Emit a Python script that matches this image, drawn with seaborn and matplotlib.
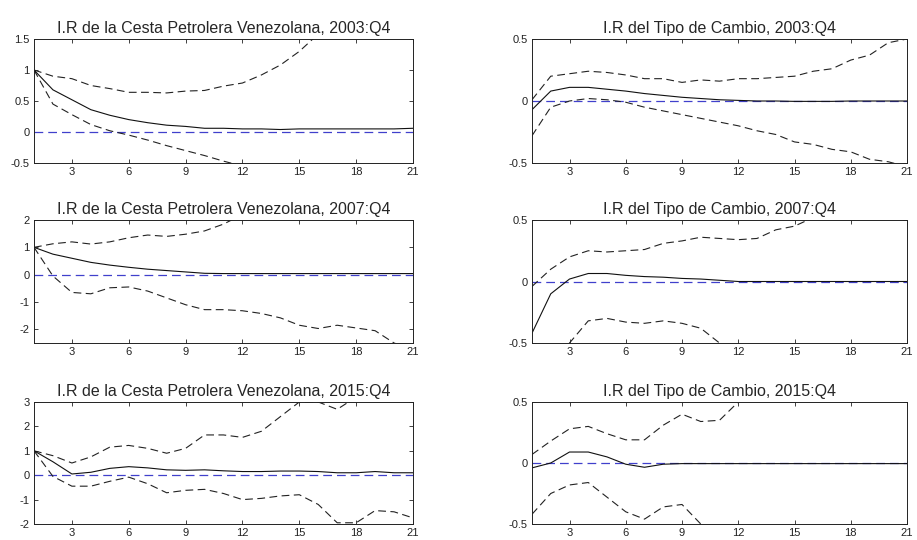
import numpy as np
import pandas as pd
import matplotlib
matplotlib.use("Agg")
import matplotlib.pyplot as plt
import seaborn as sns

sns.set_style("white")
plt.rcParams['font.family'] = ['Liberation Sans', 'DejaVu Sans']

horizon = list(range(1, 22))
xticks = [3, 6, 9, 12, 15, 18, 21]

# --- 2003:Q4 oil basket ---
oil03_resp = [1.0, 0.68, 0.52, 0.36, 0.27, 0.20, 0.15, 0.11, 0.09, 0.06, 0.06,
              0.05, 0.05, 0.04, 0.05, 0.05, 0.05, 0.05, 0.05, 0.05, 0.06]
oil03_up = [1.0, 0.90, 0.86, 0.75, 0.70, 0.64, 0.64, 0.63, 0.66, 0.67, 0.74,
            0.79, 0.92, 1.08, 1.30, 1.58, 1.80, 2.00, 2.25, 2.50, 2.70]
oil03_lo = [1.0, 0.45, 0.28, 0.12, 0.02, -0.05, -0.13, -0.22, -0.30, -0.38, -0.47,
            -0.55, -0.63, -0.72, -0.80, -0.88, -0.95, -1.02, -1.10, -1.18, -1.25]

# --- 2003:Q4 exchange rate ---
fx03_resp = [-0.07, 0.08, 0.11, 0.11, 0.095, 0.08, 0.06, 0.045, 0.03, 0.02, 0.01,
             0.005, 0.0, 0.0, -0.003, -0.003, -0.003, 0.0, 0.0, 0.0, 0.0]
fx03_up = [0.01, 0.20, 0.22, 0.24, 0.23, 0.21, 0.18, 0.18, 0.15, 0.17, 0.16,
           0.18, 0.18, 0.19, 0.20, 0.24, 0.26, 0.33, 0.37, 0.47, 0.50]
fx03_lo = [-0.28, -0.05, 0.0, 0.02, 0.01, -0.01, -0.05, -0.08, -0.11, -0.14, -0.17,
           -0.20, -0.24, -0.27, -0.33, -0.35, -0.39, -0.41, -0.47, -0.49, -0.53]

# --- 2007:Q4 oil basket ---
oil07_resp = [1.0, 0.75, 0.60, 0.45, 0.35, 0.27, 0.20, 0.15, 0.10, 0.05, 0.04,
              0.04, 0.04, 0.04, 0.04, 0.04, 0.04, 0.04, 0.04, 0.04, 0.04]
oil07_up = [1.0, 1.13, 1.20, 1.12, 1.20, 1.35, 1.45, 1.40, 1.48, 1.60, 1.85,
            2.20, 2.50, 2.80, 3.10, 3.40, 3.70, 4.00, 4.30, 4.60, 4.90]
oil07_lo = [1.0, -0.05, -0.65, -0.70, -0.48, -0.45, -0.60, -0.85, -1.10, -1.28, -1.28,
            -1.32, -1.42, -1.58, -1.85, -1.97, -1.85, -1.95, -2.05, -2.50, -2.75]

# --- 2007:Q4 exchange rate ---
fx07_resp = [-0.42, -0.10, 0.02, 0.065, 0.065, 0.05, 0.04, 0.035, 0.025, 0.02, 0.01,
             0.0, 0.0, 0.0, 0.0, 0.0, 0.0, 0.0, 0.0, 0.0, 0.0]
fx07_up = [-0.04, 0.10, 0.20, 0.25, 0.24, 0.25, 0.26, 0.31, 0.33, 0.36, 0.35,
           0.34, 0.35, 0.42, 0.45, 0.52, 0.58, 0.63, 0.70, 0.75, 0.80]
fx07_lo = [-0.90, -0.70, -0.50, -0.32, -0.30, -0.33, -0.34, -0.32, -0.34, -0.38, -0.50,
           -0.62, -0.70, -0.78, -0.85, -0.92, -1.00, -1.05, -1.10, -1.15, -1.20]

# --- 2015:Q4 oil basket ---
oil15_resp = [1.0, 0.55, 0.05, 0.12, 0.28, 0.35, 0.30, 0.22, 0.20, 0.22, 0.18,
              0.15, 0.15, 0.17, 0.17, 0.15, 0.10, 0.10, 0.15, 0.10, 0.10]
oil15_up = [1.0, 0.80, 0.50, 0.75, 1.15, 1.22, 1.10, 0.90, 1.10, 1.65, 1.65,
            1.55, 1.80, 2.40, 3.00, 3.00, 2.70, 3.20, 3.50, 3.80, 4.00]
oil15_lo = [1.0, -0.05, -0.45, -0.45, -0.25, -0.08, -0.35, -0.72, -0.62, -0.58, -0.75,
            -1.00, -0.95, -0.85, -0.80, -1.20, -1.95, -1.95, -1.45, -1.50, -1.75]

# --- 2015:Q4 exchange rate ---
fx15_resp = [-0.04, 0.0, 0.09, 0.09, 0.05, -0.01, -0.035, -0.01, -0.005, -0.005, -0.005,
             -0.005, -0.005, -0.005, -0.005, -0.005, -0.005, -0.005, -0.005, -0.005, -0.005]
fx15_up = [0.07, 0.18, 0.28, 0.30, 0.24, 0.19, 0.19, 0.31, 0.40, 0.34, 0.35,
           0.50, 0.65, 0.75, 0.85, 0.95, 1.05, 1.10, 1.15, 1.20, 1.25]
fx15_lo = [-0.42, -0.25, -0.18, -0.16, -0.28, -0.40, -0.46, -0.36, -0.34, -0.50, -0.60,
           -0.60, -0.50, -0.70, -0.80, -0.90, -1.00, -1.05, -1.10, -1.15, -1.20]

titles = ["I.R de la Cesta Petrolera Venezolana, 2003:Q4", "I.R del Tipo de Cambio, 2003:Q4",
          "I.R de la Cesta Petrolera Venezolana, 2007:Q4", "I.R del Tipo de Cambio, 2007:Q4",
          "I.R de la Cesta Petrolera Venezolana, 2015:Q4", "I.R del Tipo de Cambio, 2015:Q4"]
series = [(oil03_resp, oil03_up, oil03_lo), (fx03_resp, fx03_up, fx03_lo),
          (oil07_resp, oil07_up, oil07_lo), (fx07_resp, fx07_up, fx07_lo),
          (oil15_resp, oil15_up, oil15_lo), (fx15_resp, fx15_up, fx15_lo)]
ylims = [(-0.5, 1.5), (-0.5, 0.5), (-2.5, 2), (-0.5, 0.5), (-2, 3), (-0.5, 0.5)]
yticks = [[-0.5, 0, 0.5, 1, 1.5], [-0.5, 0, 0.5], [-2, -1, 0, 1, 2],
          [-0.5, 0, 0.5], [-2, -1, 0, 1, 2, 3], [-0.5, 0, 0.5]]
yticklabels = [["-0.5", "0", "0.5", "1", "1.5"], ["-0.5", "0", "0.5"],
               ["-2", "-1", "0", "1", "2"], ["-0.5", "0", "0.5"],
               ["-2", "-1", "0", "1", "2", "3"], ["-0.5", "0", "0.5"]]

fig = plt.figure(figsize=(9.17, 5.40), dpi=100)
col_x = [34 / 917, 532 / 917]
col_w = [379 / 917, 375 / 917]
row_top = [39, 220, 402]
row_bot = [163, 343, 524]

for i in range(6):
    r, c = divmod(i, 2)
    ax = fig.add_axes([col_x[c], 1 - row_bot[r] / 540, col_w[c], (row_bot[r] - row_top[r]) / 540])
    resp, up, lo = series[i]
    zero = [0.0] * len(horizon)
    sns.lineplot(x=horizon, y=zero, ax=ax, color="#4040cc", linewidth=0.9,
                 linestyle=(0, (7, 4)))
    sns.lineplot(x=horizon, y=up, ax=ax, color="#222222", linewidth=0.8,
                 linestyle=(0, (7, 4)))
    sns.lineplot(x=horizon, y=lo, ax=ax, color="#222222", linewidth=0.8,
                 linestyle=(0, (7, 4)))
    sns.lineplot(x=horizon, y=resp, ax=ax, color="#111111", linewidth=0.8)
    ax.set_xlim(1, 21)
    ax.set_ylim(*ylims[i])
    ax.set_xticks(xticks)
    ax.set_xticklabels([str(t) for t in xticks], fontsize=8)
    ax.set_yticks(yticks[i])
    ax.set_yticklabels(yticklabels[i], fontsize=8)
    ax.tick_params(direction="in", length=3, width=0.6, top=True, right=True,
                   bottom=True, left=True, pad=3, colors="#222222")
    for s in ax.spines.values():
        s.set_color("#222222")
        s.set_linewidth(0.7)
    ax.set_title(titles[i], fontsize=11.5, pad=4)
    ax.set_xlabel("")
    ax.set_ylabel("")

fig.savefig("out.png", dpi=100)
